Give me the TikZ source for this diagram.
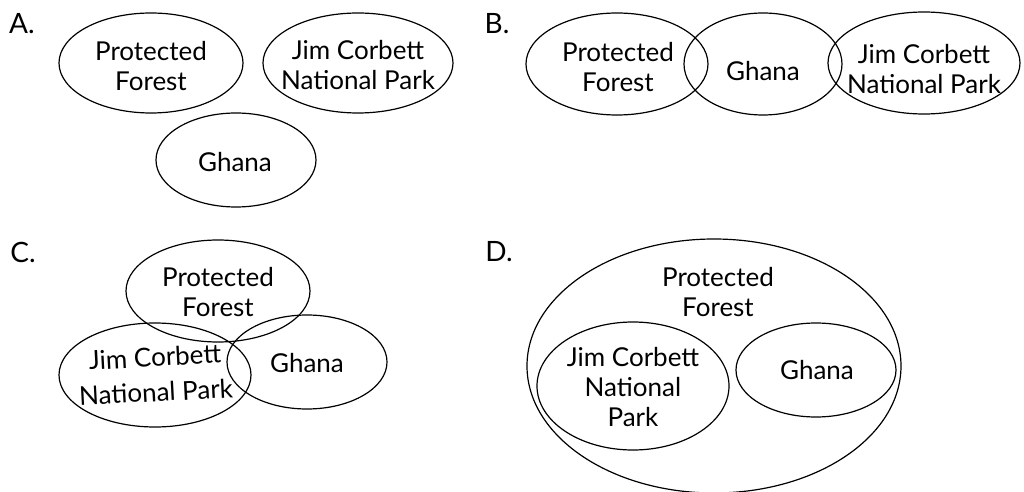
\documentclass[tikz,border=0pt]{standalone}
\usepackage{fontspec}
\setmainfont{Lato}
\usetikzlibrary{shapes.geometric}

\begin{document}
\begin{tikzpicture}[x=0.5pt, y=-0.5pt, font=\fontsize{13}{15}\selectfont,
    set/.style={ellipse, draw, line width=0.6pt, inner sep=0pt},
    tag/.style={font=\fontsize{14}{16}\selectfont}]

    % 0. Fix the page to the picture size
    \useasboundingbox (0,0) rectangle (1024,492);

    % 1. Option labels
    \node[tag] (tagA) at (22,24) {A.};
    \node[tag] (tagB) at (497,24) {B.};
    \node[tag] (tagC) at (23,252) {C.};
    \node[tag] (tagD) at (499,252) {D.};

    % 2. Option A: three separate sets
    \node[set, minimum width=92pt, minimum height=50pt] (A-pf) at (151,63) {};
    \node[set, minimum width=95pt, minimum height=50pt] (A-jc) at (358,63) {};
    \node[set, minimum width=80pt, minimum height=47pt] (A-gh) at (236,160) {};
    \node[align=center] at (151,66) {Protected\\Forest};
    \node[align=center] at (358,65) {Jim Corbett\\National Park};
    \node at (235,162) {Ghana};

    % 3. Option B: a chain of overlapping sets
    \node[set, minimum width=91pt, minimum height=51pt] (B-pf) at (617,64) {};
    \node[set, minimum width=79pt, minimum height=51pt] (B-gh) at (763,64) {};
    \node[set, minimum width=96pt, minimum height=51pt] (B-jc) at (924,63) {};
    \node[align=center] at (618,67) {Protected\\Forest};
    \node at (763,71) {Ghana};
    \node[align=center] at (924,69) {Jim Corbett\\National Park};

    % 4. Option C: three sets meeting at one point
    \node[set, minimum width=92pt, minimum height=51pt] (C-pf) at (218,291) {};
    \node[set, minimum width=96pt, minimum height=52pt] (C-jc) at (155,375) {};
    \node[set, minimum width=80pt, minimum height=47pt] (C-gh) at (307,362) {};
    \node[align=center] at (218,292) {Protected\\Forest};
    \node[rotate=3, inner sep=0pt] at (155,357) {Jim Corbett};
    \node[rotate=3, inner sep=0pt] at (156,392) {National Park};
    \node at (307,363) {Ghana};

    % 5. Option D: two sets inside a larger one
    \node[set, minimum width=187pt, minimum height=127pt] (D-pf) at (714,366) {};
    \node[set, minimum width=96pt, minimum height=64pt] (D-jc) at (633,386) {};
    \node[set, minimum width=80pt, minimum height=47pt] (D-gh) at (816,370) {};
    \node[align=center] at (718,292) {Protected\\Forest};
    \node[align=center] at (633,387) {Jim Corbett\\National\\Park};
    \node at (817,370) {Ghana};

\end{tikzpicture}
\end{document}
